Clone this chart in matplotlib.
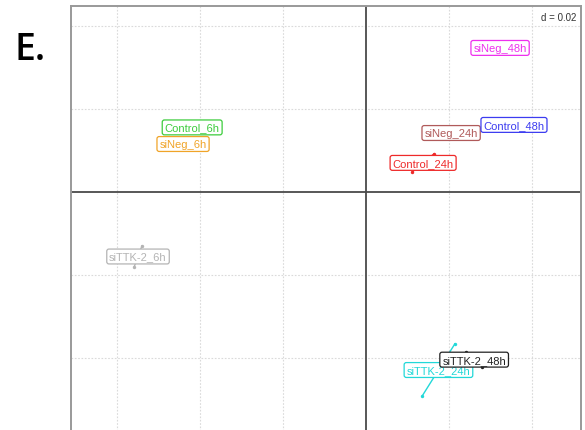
import numpy as np
import matplotlib
matplotlib.use("Agg")
import matplotlib.pyplot as plt

# class labels and their two replicate coordinates on the first two axes
classes = ["Control_6h", "siNeg_6h", "siTTK-2_6h",
           "Control_24h", "siNeg_24h", "siTTK-2_24h",
           "Control_48h", "siNeg_48h", "siTTK-2_48h"]
rep_x = [[-0.0448, -0.0390], [-0.0458, -0.0424], [-0.0540, -0.0559],
         [0.0164, 0.0111], [0.0188, 0.0222], [0.0135, 0.0214],
         [0.0337, 0.0376], [0.0304, 0.0342], [0.0241, 0.0280]]
rep_y = [[0.0166, 0.0145], [0.0123, 0.0108], [-0.0130, -0.0181],
         [0.0092, 0.0048], [0.0149, 0.0135], [-0.0492, -0.0366],
         [0.0169, 0.0154], [0.0354, 0.0340], [-0.0386, -0.0422]]
class_colors = ["#3ccc3c", "#f0a428", "#b4b4b4",
                "#ee2a2a", "#b05a5a", "#22d8d8",
                "#3c3cf0", "#ee30ee", "#222222"]
grid_step = 0.02

W, H = 585, 431
fig = plt.figure(figsize=(W / 100, H / 100), dpi=100)

# panel runs off the bottom of the figure
ax = fig.add_axes([71 / W, -11 / H, 510 / W, 435 / H])
ax.set_xlim(-0.0711, 0.0518)
ax.set_ylim(-0.0600, 0.0448)

for v in np.arange(-0.06, 0.05, grid_step):
    if abs(v) < 1e-9:
        continue
    ax.axvline(v, color="#dadada", lw=0.8, ls=(0, (1.5, 1.5)), zorder=0)
    ax.axhline(v, color="#dadada", lw=0.8, ls=(0, (1.5, 1.5)), zorder=0)
ax.axvline(0, color="#4a4a4a", lw=1.3, zorder=1)
ax.axhline(0, color="#4a4a4a", lw=1.3, zorder=1)

for name, xs, ys, c in zip(classes, rep_x, rep_y, class_colors):
    cx, cy = np.mean(xs), np.mean(ys)
    for px, py in zip(xs, ys):
        ax.plot([cx, px], [cy, py], color=c, lw=1.0, zorder=2)
    ax.scatter(xs, ys, s=6, color=c, zorder=3, linewidths=0)
    ax.text(cx, cy, name, color=c, fontsize=8, family="Liberation Sans",
            ha="center", va="center", zorder=4,
            bbox=dict(boxstyle="round,pad=0.22,rounding_size=0.2",
                      fc="white", ec=c, lw=0.9))

ax.annotate("d = 0.02", xy=(1, 1), xycoords="axes fraction",
            xytext=(-3, -4), textcoords="offset points",
            ha="right", va="top", fontsize=7, color="#333333",
            family="Liberation Sans", zorder=5,
            bbox=dict(boxstyle="square,pad=0.1", fc="white", ec="none"))

ax.set_xticks([])
ax.set_yticks([])
for sp in ax.spines.values():
    sp.set_color("#999999")
    sp.set_linewidth(1.4)

fig.text(14 / W, 1 - 50 / H, "E.", fontsize=27, family="Open Sans",
         fontweight="semibold", ha="left", va="center", color="black")

fig.savefig("out.png", dpi=100)
